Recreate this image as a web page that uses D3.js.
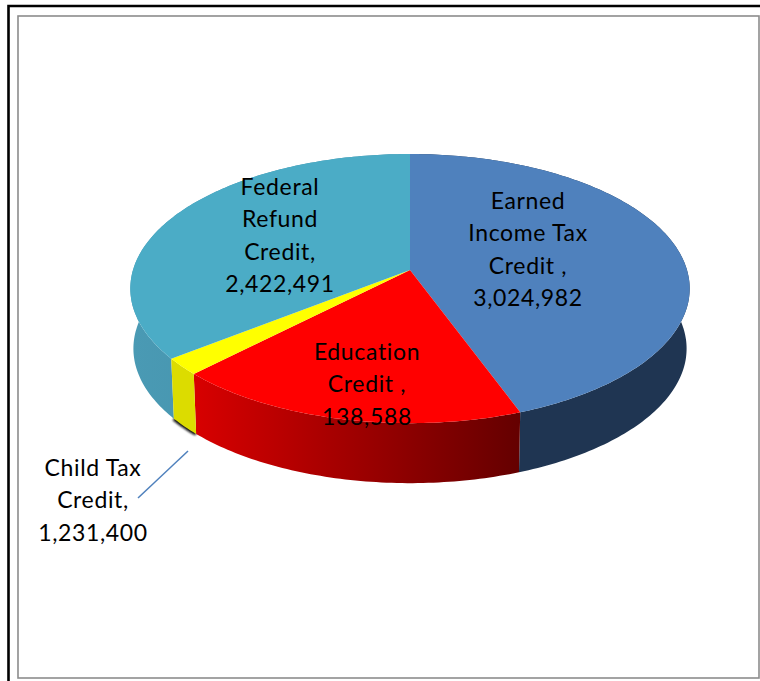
<!DOCTYPE html>
<html>
<head>
<meta charset="utf-8">
<script src="https://cdn.jsdelivr.net/npm/d3@7"></script>
<style>
	html, body { margin: 0; padding: 0; background: #fff; }
	svg { display: block; }
	text { font-family: Lato, "Noto Sans", sans-serif; font-size: 23px; letter-spacing: 0.65px; fill: #000; text-anchor: middle; }
</style>
</head>
<body>
<div id="chart"></div>
<script>
(function() {
	"use strict";

	// slices clockwise from twelve o'clock
	var sliceNames = ['Earned Income Tax Credit', 'Education Credit', 'Child Tax Credit', 'Federal Refund Credit'];
	// sizes as the picture draws them: the red and yellow labels are swapped in the original
	var sliceValues = [3024982, 1231400, 138588, 2422491];
	var topColors = ['#4f81bd', '#ff0000', '#ffff00', '#4bacc6'];
	var wallStart = ['#1f3552', '#d80000', '#dcdc00', '#418ca5'];
	var wallEnd = ['#1f3552', '#640000', '#dcdc00', '#4a9ab4'];

	var labelLines = [
		['Earned', 'Income Tax', 'Credit ,', '3,024,982'],
		['Education', 'Credit ,', '138,588'],
		['Child Tax', 'Credit,', '1,231,400'],
		['Federal', 'Refund', 'Credit,', '2,422,491']
	];
	var labelX = [528, 367, 93, 280];
	var labelY = [209, 360, 476, 195];
	var lineHeight = 32.3;

	var width = 760, height = 681;
	var centre = { x: 410, y: 270 };
	var radiusX = 277, radiusY = 132, perspective = 0.138;
	var wallDepth = 60, wallShrink = 0.989;

	var svg = d3.select('#chart').append('svg')
		.attr('width', width)
		.attr('height', height);

	var defs = svg.append('defs');
	defs.append('filter').attr('id', 'blur')
		.attr('x', '-30%').attr('y', '-30%').attr('width', '160%').attr('height', '160%')
		.append('feGaussianBlur').attr('stdDeviation', 1.3);

	// outer and inner frames
	svg.append('path')
		.attr('d', 'M8.5,' + height + 'V6H' + width)
		.attr('fill', 'none').attr('stroke', '#000').attr('stroke-width', 2.6);
	svg.append('rect')
		.attr('x', 18).attr('y', 16)
		.attr('width', 741).attr('height', 662)
		.attr('fill', '#fff').attr('stroke', '#8c8c8c').attr('stroke-width', 1.6);

	var pie = d3.pie().sort(null)(sliceValues);
	var line = d3.line().x(function (p) { return p[0]; }).y(function (p) { return p[1]; });

	// unit circle to screen, nearer points are drawn larger
	function rimPoint(angle, lower) {
		var u = Math.sin(angle), v = -Math.cos(angle);
		var s = 1 / (1 - perspective * v);
		var shrink = lower ? wallShrink : 1;
		return [
			centre.x + radiusX * u * s * shrink,
			centre.y + radiusY * v * s + (lower ? wallDepth : 0)
		];
	}

	function rim(slice, lower) {
		var steps = Math.max(2, Math.ceil((slice.endAngle - slice.startAngle) * 60));
		return d3.range(steps + 1).map(function (i) {
			return rimPoint(slice.startAngle + (slice.endAngle - slice.startAngle) * i / steps, lower);
		});
	}

	// small shadow under the yellow wall
	svg.append('path')
		.attr('d', line(rim(pie[2], true)))
		.attr('fill', 'none')
		.attr('stroke', '#111')
		.attr('stroke-width', 4)
		.attr('filter', 'url(#blur)');

	// walls first, the top faces cover whatever lies behind them
	var drawOrder = [0, 3, 1, 2];
	drawOrder.forEach(function (i) {
		var top = rim(pie[i], false), bottom = rim(pie[i], true);
		var grad = defs.append('linearGradient')
			.attr('id', 'wall' + i)
			.attr('gradientUnits', 'userSpaceOnUse')
			.attr('x1', d3.min(top, function (p) { return p[0]; })).attr('y1', 0)
			.attr('x2', d3.max(top, function (p) { return p[0]; })).attr('y2', 0);
		grad.append('stop').attr('offset', 0).attr('stop-color', i === 3 ? wallEnd[i] : wallStart[i]);
		grad.append('stop').attr('offset', 1).attr('stop-color', i === 3 ? wallStart[i] : wallEnd[i]);

		svg.append('path')
			.attr('d', line(top.concat(bottom.reverse())) + 'Z')
			.attr('fill', 'url(#wall' + i + ')');
	});

	svg.selectAll('path.face')
		.data(pie)
		.enter()
		.append('path')
		.classed('face', true)
		.attr('d', function (slice) {
			return line([[centre.x, centre.y]].concat(rim(slice, false))) + 'Z';
		})
		.attr('fill', function (slice, i) { return topColors[i]; });

	// leader line for the child tax label
	svg.append('line')
		.attr('x1', 188).attr('y1', 451)
		.attr('x2', 138).attr('y2', 498)
		.attr('stroke', '#4f81bd').attr('stroke-width', 1.5);

	var labels = svg.selectAll('g.label')
		.data(labelLines)
		.enter()
		.append('g')
		.classed('label', true)
		.attr('data-name', function (d, i) { return sliceNames[i]; })
		.attr('transform', function (d, i) { return 'translate(' + labelX[i] + ',' + labelY[i] + ')'; });

	labels.selectAll('text')
		.data(function (d) { return d; })
		.enter()
		.append('text')
		.attr('y', function (d, i) { return i * lineHeight; })
		.text(function (d) { return d; });
}());
</script>
</body>
</html>
